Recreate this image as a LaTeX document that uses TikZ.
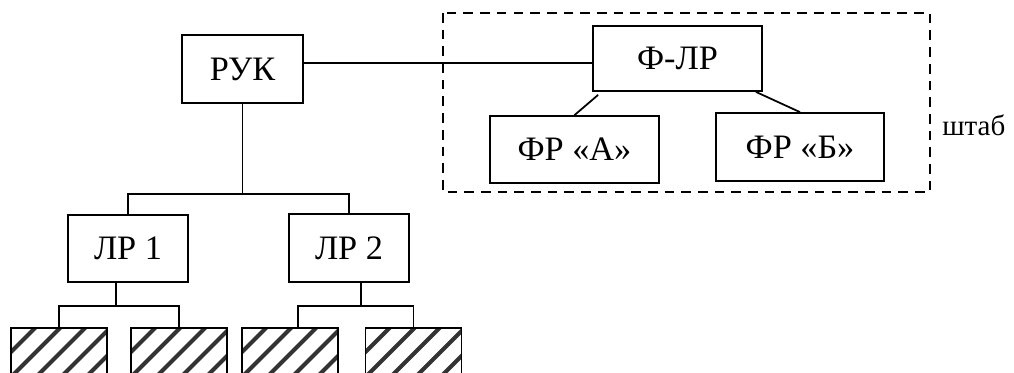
\documentclass[tikz,border=0pt]{standalone}
\usepackage{fontspec}
\setmainfont{Liberation Serif}
\usetikzlibrary{calc}

\begin{document}
\begin{tikzpicture}[x=0.02cm, y=-0.02cm,
    box/.style={draw, line width=1pt, inner sep=0pt, minimum width=3.38cm, minimum height=1.34cm, font=\fontsize{19.5}{23}\selectfont},
    link/.style={line width=1pt},
    hatchbox/.style={draw, line width=1pt, minimum width=1.92cm, minimum height=1.04cm,
        path picture={\foreach \k in {-6,...,6}
            \draw[black!80, line width=2.3pt] ([xshift=\k*0.5cm]path picture bounding box.center) ++(45:-1.6cm) -- ++(45:3.2cm);}}]
    \clip (0,0) rectangle (1014,372);

    \draw[line width=1pt, dash pattern=on 5.5pt off 4pt] (443,13) rectangle (930,192);

    \node[box, minimum width=2.42cm, minimum height=1.36cm] (ruk) at (242.5,69) {РУК};
    \node[box, minimum height=1.3cm] (flr) at (677.5,58.5) {Ф-ЛР};
    \node[box] (fra) at (574.5,149.5) {ФР «А»};
    \node[box, minimum width=3.36cm, minimum height=1.36cm] (frb) at (800,147) {ФР «Б»};
    \node[box, minimum width=2.4cm] (lr1) at (128,248.5) {ЛР 1};
    \node[box, minimum width=2.4cm, minimum height=1.36cm] (lr2) at (349,248) {ЛР 2};
    \node[font=\fontsize{16.5}{20}\selectfont, anchor=base west, inner sep=0pt] (shtab) at (942,135) {штаб};

    \node[hatchbox] (h1) at (59,354) {};
    \node[hatchbox] (h2) at (179,354) {};
    \node[hatchbox] (h3) at (290,354) {};
    \node[hatchbox] (h4) at (413.5,354) {};

    \draw[link] ([yshift=0.12cm]ruk.east) -- ([yshift=0.12cm]ruk.east -| flr.west);
    \draw[link] ([xshift=0.12cm, yshift=-0.06cm]flr.south west) -- (fra.north);
    \draw[link] ([xshift=-0.14cm]flr.south east) -- (frb.north);

    \draw[link] (ruk.south) -- ++(0,90) coordinate (busA);
    \draw[link] (lr1.north) |- (busA) -| (lr2.north);

    \draw[link] ([xshift=-0.24cm]lr1.south) -- ++(0,23) coordinate (busB);
    \draw[link] (h1.north) |- (busB) -| (h2.north);
    \draw[link] ([xshift=0.24cm]lr2.south) -- ++(0,23) coordinate (busC);
    \draw[link] ([xshift=0.16cm]h3.north) |- (busC) -| (h4.north);
\end{tikzpicture}
\end{document}
